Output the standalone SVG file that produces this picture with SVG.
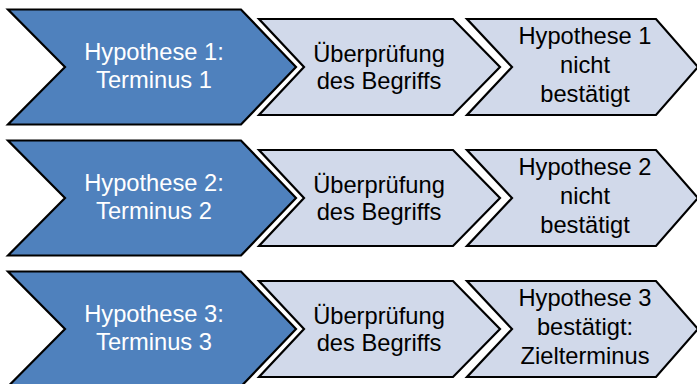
<svg xmlns="http://www.w3.org/2000/svg" width="697" height="384" viewBox="0 0 697 384">
<defs>
<style>
.big{fill:#4F81BD;stroke:#000;stroke-width:2.2;stroke-linejoin:miter}
.small{fill:#D1D9EA;stroke:#000;stroke-width:2.2;stroke-linejoin:miter}
.tw{font-family:"Liberation Sans",Arial,sans-serif;font-size:23.7px;fill:#fff;text-anchor:middle}
.tb{font-family:"Liberation Sans",Arial,sans-serif;font-size:23.7px;fill:#000;text-anchor:middle}
</style>
<polygon id="bigShape" class="big" points="8,-57.5 241,-57.5 296,0 241,57.5 8,57.5 65,0"/>
<polygon id="midShape" class="small" points="259,-48 453,-48 500,0 453,48 259,48 304,0"/>
<polygon id="rightShape" class="small" points="467,-48 656,-48 698,0 656,48 467,48 512,0"/>
</defs>
<rect width="697" height="384" fill="#fff"/>
<g id="connectors"/>
<g id="row1" transform="translate(0,67)">
<g id="n1a"><use href="#bigShape"/><text class="tw" x="154" y="-7">Hypothese 1:</text><text class="tw" x="154" y="21">Terminus 1</text></g>
<g id="n1b"><use href="#midShape"/><text class="tb" x="379" y="-5">Überprüfung</text><text class="tb" x="379" y="22">des Begriffs</text></g>
<g id="n1c"><use href="#rightShape"/><text class="tb" x="585" y="-23">Hypothese 1</text><text class="tb" x="585" y="6">nicht</text><text class="tb" x="585" y="35">bestätigt</text></g>
</g>
<g id="row2" transform="translate(0,198)">
<g id="n2a"><use href="#bigShape"/><text class="tw" x="154" y="-7">Hypothese 2:</text><text class="tw" x="154" y="21">Terminus 2</text></g>
<g id="n2b"><use href="#midShape"/><text class="tb" x="379" y="-5">Überprüfung</text><text class="tb" x="379" y="22">des Begriffs</text></g>
<g id="n2c"><use href="#rightShape"/><text class="tb" x="585" y="-23">Hypothese 2</text><text class="tb" x="585" y="6">nicht</text><text class="tb" x="585" y="35">bestätigt</text></g>
</g>
<g id="row3" transform="translate(0,329)">
<g id="n3a"><use href="#bigShape"/><text class="tw" x="154" y="-7">Hypothese 3:</text><text class="tw" x="154" y="21">Terminus 3</text></g>
<g id="n3b"><use href="#midShape"/><text class="tb" x="379" y="-5">Überprüfung</text><text class="tb" x="379" y="22">des Begriffs</text></g>
<g id="n3c"><use href="#rightShape"/><text class="tb" x="585" y="-23">Hypothese 3</text><text class="tb" x="585" y="6">bestätigt:</text><text class="tb" x="585" y="35">Zielterminus</text></g>
</g>
</svg>
